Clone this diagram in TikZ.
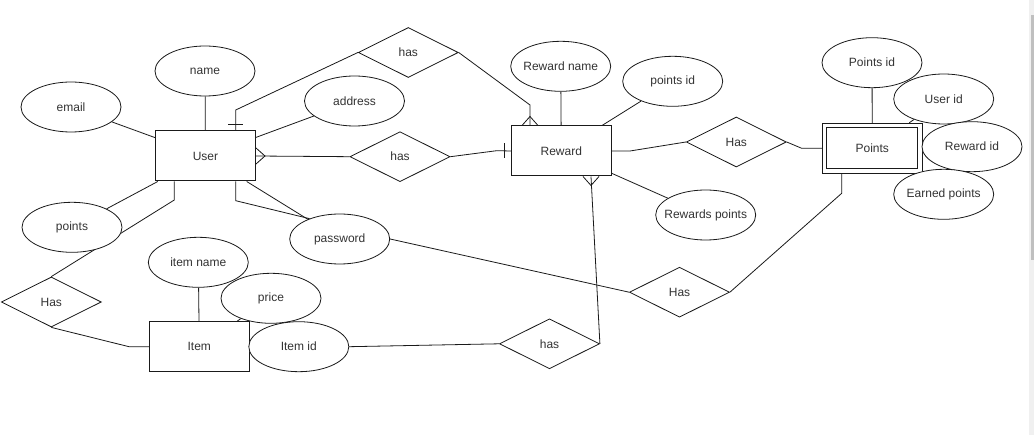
\documentclass[tikz,border=0pt]{standalone}
\usepackage{fontspec}
\setmainfont{Liberation Sans}
\usetikzlibrary{shapes.geometric,calc}
\pgfdeclarelayer{bg}
\pgfdeclarelayer{canvas}
\pgfsetlayers{canvas,bg,main}
\definecolor{ln}{HTML}{1A1A1A}
\definecolor{tx}{HTML}{333333}
\newcommand\zw[1]{\makebox[0pt]{#1}}
\begin{document}
\begin{tikzpicture}[x=1pt,y=-1pt,
  font=\fontsize{12}{14}\selectfont,
  ent/.style={draw=ln, line width=1pt, fill=white, minimum width=100pt, minimum height=50pt, inner sep=0pt, text=tx},
  attr/.style={ellipse, draw=ln, line width=0.8pt, fill=white, minimum width=100pt, minimum height=50pt, inner sep=0pt, text=tx},
  rel/.style={diamond, aspect=2, draw=ln, line width=0.8pt, fill=white, minimum width=100pt, minimum height=50pt, inner sep=0pt, text=tx},
  edge/.style={draw=ln, line width=0.8pt}]
\useasboundingbox (0,0) rectangle (1034,435);
\begin{pgfonlayer}{canvas}
\fill[white] (0,0) rectangle (1034,435);
% scrollbar
\fill[black!6] (1029.4,0) rectangle (1034,435);
\fill[black!25] (1031,15) rectangle (1034,260);
\end{pgfonlayer}

% nodes
\node[ent] (user) at (205.5,156) {User};
\node[attr] (name) at (205,71) {name};
\node[attr] (email) at (71,107) {email};
\node[attr] (address) at (354.5,101) {address};
\node[attr] (password) at (339.7,239) {password};
\node[attr] (points) at (72,227.3) {points};
\node[rel] (hasT) at (408.3,52.5) {has};
\node[rel] (hasM) at (400,156.7) {has};
\node[ent] (reward) at (561.3,151) {Reward};
\node[attr] (rname) at (560.7,66.3) {\zw{Reward name}};
\node[attr] (pid) at (672.7,81.3) {points id};
\node[attr] (rpts) at (705.7,215) {\zw{Rewards points}};
\node[rel] (hasR) at (736.3,142) {Has};
\node[ent] (pts) at (872.3,148.3) {Points};
\draw[ln, line width=1pt] ($(pts.north west)+(5,5)$) rectangle ($(pts.south east)+(-5,-5)$);
\node[attr] (ptsid) at (872,62.7) {Points id};
\node[attr] (uid) at (943.7,99) {User id};
\node[attr] (rid) at (972,146.7) {Reward id};
\node[attr] (earn) at (943.7,194.3) {\zw{Earned points}};
\node[rel] (hasP) at (679.5,292.2) {Has};
\node[rel] (hasB) at (549.5,343.8) {has};
\node[rel] (hasL) at (51.3,302) {Has};
\node[ent] (item) at (199.3,346.7) {Item};
\node[attr] (iname) at (198.3,262.3) {item name};
\node[attr] (price) at (271,298.3) {price};
\node[attr] (itemid) at (298.8,346.7) {Item id};

% bend points
\coordinate (u1) at (235.7,110);
\coordinate (u2) at (235.7,200.7);
\coordinate (u3) at (174.3,200);
\coordinate (r1) at (530,105);
\coordinate (m1) at (496.7,150.7);
\coordinate (m2) at (630,151);
\coordinate (m3) at (801.7,148.3);
\coordinate (b1) at (591,0);
\coordinate (p1) at (841.7,193.3);
\coordinate (i1) at (129,346.7);

\begin{pgfonlayer}{bg}
% attributes
\draw[edge] (email) -- (user);
\draw[edge] (name) -- (user);
\draw[edge] (address) -- (user);
\draw[edge] (password) -- (user);
\draw[edge] (points) -- (user);
\draw[edge] (rname) -- (reward);
\draw[edge] (pid) -- (reward);
\draw[edge] (rpts) -- (reward);
\draw[edge] (ptsid) -- (pts);
\draw[edge] (uid) -- (pts);
\draw[edge] (rid) -- (pts);
\draw[edge] (earn) -- (pts);
\draw[edge] (iname) -- (item);
\draw[edge] (price) -- (item);
\draw[edge] (itemid) -- (item);
% User -- has -- Reward (top)
\draw[edge] (user.north -| u1) -- (u1) -- (hasT.west);
\draw[edge] ($(user.north -| u1)+(-7.5,-6)$) -- ++(15,0);
\draw[edge] (hasT.east) -- (r1) -- (reward.north -| r1);
\draw[edge] ($(reward.north -| r1)+(-8,0)$) -- ($(reward.north -| r1)+(0,-9)$) -- ($(reward.north -| r1)+(8,0)$);
% User -- has -- Reward (middle)
\draw[edge] (user.east) -- (hasM.west);
\draw[edge] ($(user.east)+(0,-8)$) -- ($(user.east)+(9,0)$) -- ($(user.east)+(0,8)$);
\draw[edge] (hasM.east) -- (m1) -- (reward.west);
\draw[edge] ($(reward.west)+(-6,-7.5)$) -- ++(0,15);
% Reward -- Has -- Points
\draw[edge] (reward.east) -- (m2) -- (hasR.west);
\draw[edge] (hasR.east) -- (m3) -- (pts.west);
% Reward -- has -- Item id
\draw[edge] (reward.south -| b1) -- (hasB.east);
\draw[edge] ($(reward.south -| b1)+(-8,0)$) -- ($(reward.south -| b1)+(0,9)$) -- ($(reward.south -| b1)+(8,0)$);
\draw[edge] (itemid.east) -- (hasB.west);
% password -- Has -- Points
\draw[edge] (password.east) -- (hasP.west);
\draw[edge] (hasP.east) -- (p1) -- (pts.south -| p1);
% User -- password (bent)
\draw[edge] (user.south -| u2) -- (u2) -- (password.146);
% User -- Has -- Item
\draw[edge] (user.south -| u3) -- (u3) -- (hasL.north);
\draw[edge] (hasL.south) -- (i1) -- (item.west);
\end{pgfonlayer}
\end{tikzpicture}
\end{document}
